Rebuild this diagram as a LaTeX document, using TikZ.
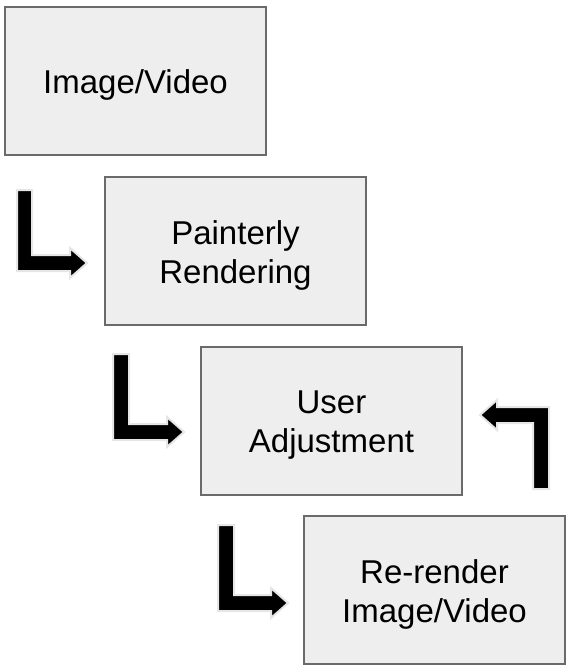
\documentclass[tikz,border=0pt]{standalone}
\usepackage{fontspec}
\setmainfont{Liberation Sans}
\begin{document}
\begin{tikzpicture}[x=1pt,y=-1pt,
  stagebox/.style={draw=boxborder, line width=1.6pt, fill=boxfill,
    minimum width=261pt, minimum height=148pt, inner sep=0pt},
  stagetext/.style={inner sep=0pt, align=center, font=\fontsize{33}{39}\selectfont, text=black},
  blockarrow/.style={fill=black, draw=arrowrim, line width=2pt, line join=miter}]
\definecolor{boxborder}{HTML}{6A6A6A}
\definecolor{boxfill}{HTML}{EEEEEE}
\definecolor{arrowrim}{HTML}{E6E6E6}
\useasboundingbox (0,0) rectangle (571,672);
\node[stagebox] (img)  at (135.5,81)  {};
\node[stagebox] (paint) at (235.5,251) {};
\node[stagebox] (user) at (331.5,421) {};
\node[stagebox] (rer)  at (434.5,590) {};
\node[stagetext] (imgt) at (135.5,85) {Image/Video};
\node[stagetext] (paintt) at (235.5,255) {Painterly\\Rendering};
\node[stagetext] (usert) at (331.5,425) {User\\Adjustment};
\node[stagetext] (rert) at (434.5,594) {Re-render\\Image/Video};
% L-shaped block arrows
\path[blockarrow] (17,190) -- (32,190) -- (32,255) -- (70,255) -- (70,248) -- (87,263)
  -- (70,278) -- (70,271) -- (17,271) -- cycle;
\path[blockarrow] (113,354) -- (129,354) -- (129,424) -- (167,424) -- (167,417) -- (184,432)
  -- (167,447) -- (167,440) -- (113,440) -- cycle;
\path[blockarrow] (218,525) -- (234,525) -- (234,595) -- (271,595) -- (271,588) -- (288,603)
  -- (271,618) -- (271,611) -- (218,611) -- cycle;
\path[blockarrow] (549,489) -- (533,489) -- (533,423) -- (497,423) -- (497,430) -- (480,415)
  -- (497,400) -- (497,407) -- (549,407) -- cycle;
\end{tikzpicture}
\end{document}
